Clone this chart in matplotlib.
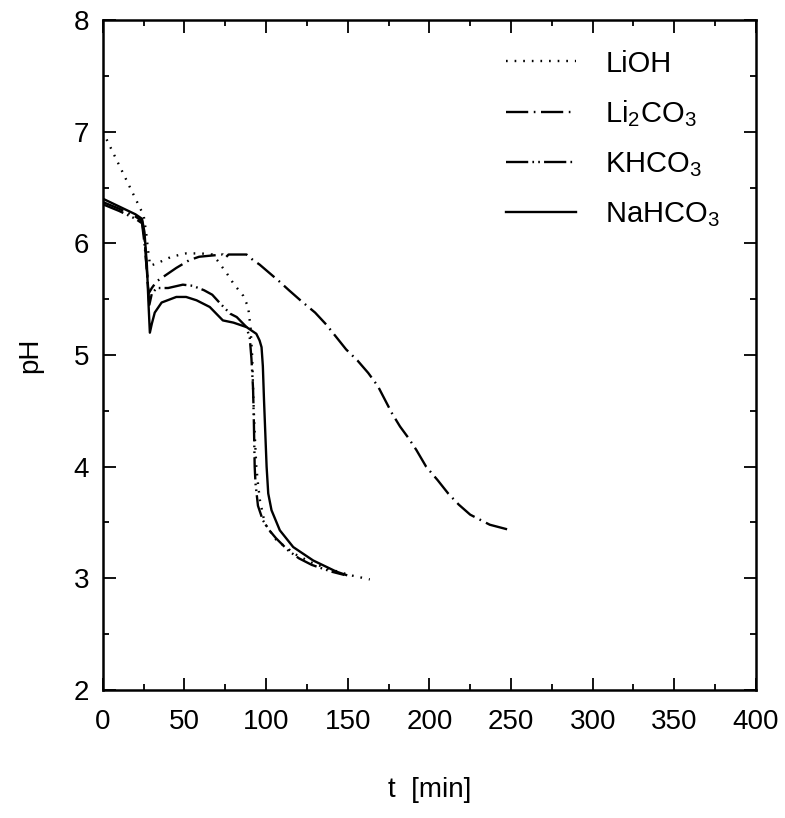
import matplotlib
matplotlib.use('Agg')
import matplotlib.pyplot as plt
from matplotlib.ticker import MultipleLocator

plt.rcParams['font.family'] = ['Liberation Sans', 'DejaVu Sans']
plt.rcParams['mathtext.fontset'] = 'custom'
plt.rcParams['mathtext.rm'] = 'Liberation Sans'
plt.rcParams['mathtext.it'] = 'Liberation Sans'
plt.rcParams['lines.scale_dashes'] = False

# --- data (t in min, pH) ---
t_lioh = [0, 5, 10, 15, 20, 25, 26.5, 28, 29, 31, 36, 42, 51, 60, 67, 70, 76, 80,
          86, 89, 90.5, 91.5, 92.2, 93, 94, 95, 96.2, 99.2, 106.4, 118.6, 128, 137, 151, 163.5]
ph_lioh = [7.0, 6.85, 6.7, 6.55, 6.4, 6.25, 6.1, 5.9, 5.8, 5.81, 5.84, 5.88, 5.91, 5.91, 5.9,
           5.85, 5.73, 5.64, 5.53, 5.43, 5.24, 4.98, 4.6, 4.3, 4.0, 3.85, 3.70, 3.49, 3.34,
           3.21, 3.14, 3.09, 3.03, 2.99]

t_li2co3 = [0, 10, 20, 24, 25.5, 27, 28, 30, 33, 39, 45, 53, 59, 66, 73.5, 75, 77, 82, 88,
            92, 96, 100, 108, 114, 121, 130, 137, 143, 149, 156, 162.5, 168.5, 177, 182, 187,
            192, 198, 205, 211.5, 218, 225, 237, 250]
ph_li2co3 = [6.37, 6.31, 6.24, 6.2, 6.05, 5.75, 5.55, 5.6, 5.66, 5.72, 5.78, 5.85, 5.88, 5.89,
             5.9, 5.87, 5.9, 5.9, 5.9, 5.85, 5.81, 5.76, 5.66, 5.58, 5.49, 5.38, 5.27, 5.16,
             5.05, 4.95, 4.84, 4.72, 4.48, 4.36, 4.26, 4.15, 4.0, 3.88, 3.76, 3.66, 3.57, 3.48,
             3.43]

t_khco3 = [0, 10, 20, 24, 25.5, 27, 28.5, 30, 33, 40, 49, 55, 62, 67, 72, 78, 82, 88, 90,
           91, 92, 92.5, 93, 93.5, 95, 98, 102, 106, 113.5, 120, 128, 140, 148]
ph_khco3 = [6.35, 6.29, 6.22, 6.18, 6.0, 5.75, 5.45, 5.55, 5.6, 5.6, 5.63, 5.62, 5.58, 5.54,
            5.46, 5.37, 5.34, 5.25, 5.15, 4.97, 4.7, 4.4, 4.0, 3.85, 3.65, 3.52, 3.43, 3.36,
            3.25, 3.18, 3.12, 3.06, 3.03]

t_nahco3 = [0, 10, 20, 24, 25.5, 27, 28, 28.8, 30, 31.8, 36, 45, 51, 57.4, 65.5, 73.5, 80, 88,
            94, 96, 97.2, 98, 98.7, 99.5, 100.3, 101.3, 103.3, 108.4, 116.6, 128.8, 143, 149]
ph_nahco3 = [6.40, 6.33, 6.26, 6.22, 6.1, 5.8, 5.45, 5.2, 5.28, 5.38, 5.47, 5.52, 5.52, 5.49,
             5.43, 5.31, 5.29, 5.25, 5.19, 5.13, 5.07, 4.9, 4.6, 4.3, 4.0, 3.76, 3.61, 3.43,
             3.28, 3.16, 3.06, 3.03]

fig = plt.figure(figsize=(7.85, 8.18), dpi=100)
ax = fig.add_axes([0.131, 0.1565, 0.832, 0.819])

lw = 1.7
ax.plot(t_lioh, ph_lioh, color='black', lw=lw, dashes=(1.2, 5.0), label='LiOH')
ax.plot(t_li2co3, ph_li2co3, color='black', lw=lw, dashes=(16, 4, 1.2, 4),
        label=r'Li$_2$CO$_3$')
ax.plot(t_khco3, ph_khco3, color='black', lw=lw, dashes=(16, 3, 1.2, 3, 1.2, 3),
        label=r'KHCO$_3$')
ax.plot(t_nahco3, ph_nahco3, color='black', lw=lw, label=r'NaHCO$_3$')

ax.set_xlim(0, 400)
ax.set_ylim(2, 8)
ax.xaxis.set_major_locator(MultipleLocator(50))
ax.xaxis.set_minor_locator(MultipleLocator(25))
ax.yaxis.set_major_locator(MultipleLocator(1))
ax.yaxis.set_minor_locator(MultipleLocator(0.5))
ax.tick_params(which='both', direction='in', top=True, right=True, width=1.3)
ax.tick_params(which='major', length=9, labelsize=20)
ax.tick_params(which='minor', length=4.5)
ax.tick_params(axis='x', pad=14)
ax.tick_params(axis='y', pad=10)
for sp in ax.spines.values():
    sp.set_linewidth(1.8)

ax.set_xlabel('t  [min]', fontsize=20, labelpad=30)
ax.set_ylabel('pH', fontsize=20, labelpad=22)

leg = ax.legend(loc='upper right', bbox_to_anchor=(0.985, 0.995), frameon=False,
                fontsize=21, handlelength=2.4, handletextpad=1.0, labelspacing=0.72)

fig.savefig('out.png', dpi=100)
